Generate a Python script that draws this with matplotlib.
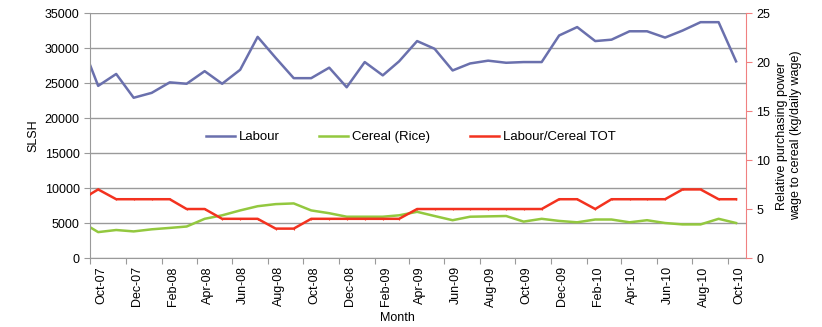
import pandas as pd
import matplotlib
matplotlib.use('Agg')
import matplotlib.pyplot as plt
import matplotlib.dates as mdates

plt.rcParams['font.family'] = ['Liberation Sans', 'DejaVu Sans']
plt.rcParams['font.size'] = 9

# observation dates: start of series, then mid-month readings
dates = pd.to_datetime(['2007-10-01']).append(
    pd.date_range('2007-10-01', periods=37, freq='MS') + pd.Timedelta(days=14))

labour = [27600, 24600, 26300, 22900, 23600, 25100, 24900, 26700, 24900, 26900,
          31600, 28600, 25700, 25700, 27200, 24400, 28000, 26100, 28100, 31000,
          29900, 26800, 27800, 28200, 27900, 28000, 28000, 31800, 33000, 31000,
          31200, 32400, 32400, 31500, 32500, 33700, 33700, 28100]
cereal = [4400, 3700, 4000, 3800, 4100, 4300, 4500, 5600, 6100, 6800,
          7400, 7700, 7800, 6800, 6400, 5900, 5900, 5900, 6100, 6600,
          6000, 5400, 5900, 5950, 6000, 5200, 5600, 5300, 5100, 5500,
          5500, 5100, 5400, 5000, 4800, 4800, 5600, 5000]
tot = [6.5, 7, 6, 6, 6, 6, 5, 5, 4, 4,
       4, 3, 3, 4, 4, 4, 4, 4, 4, 5,
       5, 5, 5, 5, 5, 5, 5, 6, 6, 5,
       6, 6, 6, 6, 7, 7, 6, 6]

# axis ticks every second month; labels sit a little right of each tick
tick_dates = pd.date_range('2007-10-01', '2010-10-01', freq='2MS')
label_dates = tick_dates + pd.Timedelta(days=19)

fig, ax = plt.subplots(figsize=(8.22, 3.27), dpi=100)
fig.subplots_adjust(left=0.1095, right=0.9075, top=0.960, bottom=0.211)
ax2 = ax.twinx()

grid_c = '#9a9a9a'
l1, = ax.plot(dates, labour, color='#6a70ad', lw=1.8, label='Labour')
l2, = ax.plot(dates, cereal, color='#93c83f', lw=1.8, label='Cereal (Rice)')
l3, = ax2.plot(dates, tot, color='#f3321f', lw=1.8, marker='|', ms=2,
               mew=0.8, label='Labour/Cereal TOT')

ax.set_ylim(0, 35000)
ax.set_yticks(range(0, 35001, 5000))
ax2.set_ylim(0, 25)
ax2.set_yticks(range(0, 26, 5))
ax.set_xlim(pd.Timestamp('2007-10-01'), pd.Timestamp('2010-11-01'))

ax.set_xticks(tick_dates)
ax.set_xticklabels([])
ax.set_xticks(label_dates, minor=True)
ax.xaxis.set_minor_formatter(mdates.DateFormatter('%b-%y'))
ax.tick_params(axis='x', which='minor', length=0, pad=6, labelrotation=90)

ax.yaxis.grid(True, color=grid_c, lw=1)
ax.set_axisbelow(True)
for a in (ax, ax2):
    a.spines['top'].set_visible(False)
ax2.spines['left'].set_visible(False)
ax2.spines['bottom'].set_visible(False)
ax.spines['right'].set_visible(False)
ax.spines['left'].set_color(grid_c)
ax.spines['bottom'].set_color(grid_c)
ax2.spines['right'].set_color('#f08080')
ax.tick_params(axis='both', which='major', colors=grid_c, labelcolor='black', length=4)
ax2.tick_params(axis='y', colors='#f08080', labelcolor='black', length=4)

ax.set_ylabel('SLSH')
ax.set_xlabel('Month')
ax.xaxis.set_label_coords(0.468, -0.222)
ax2.set_ylabel('Relative purchasing power\nwage to cereal (kg/daily wage)')

leg_line = plt.Line2D([], [], color='#f3321f', lw=1.8)
ax.legend(handles=[l1, l2, leg_line], labels=['Labour', 'Cereal (Rice)', 'Labour/Cereal TOT'],
          loc='center left', bbox_to_anchor=(0.158, 0.494),
          ncol=3, frameon=False, handlelength=2.2, handletextpad=0.3,
          columnspacing=3.0, fontsize=9.5)

fig.savefig('out.png', dpi=100)
